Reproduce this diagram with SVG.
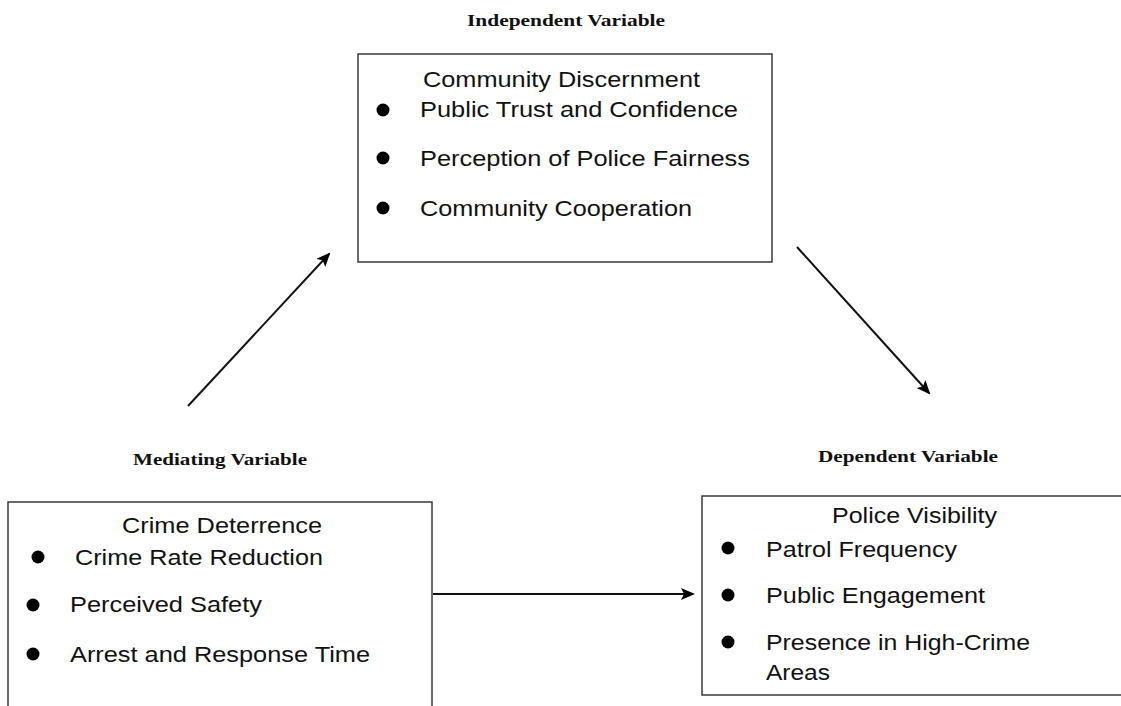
<svg xmlns="http://www.w3.org/2000/svg" width="1121" height="706" viewBox="0 0 1121 706">
<style>
.box{fill:#fff;stroke:#3a3a3a;stroke-width:1.5}
.t{font-family:"Liberation Sans",Arial,sans-serif;font-size:22.5px;fill:#111}
.h{font-family:"Liberation Serif","Times New Roman",serif;font-size:16.5px;font-weight:bold;fill:#111}
.dot{fill:#000}
.con{stroke:#111;stroke-width:2;fill:none;marker-end:url(#ah)}
</style>
<defs>
<marker id="ah" markerWidth="14" markerHeight="12" refX="12" refY="6" orient="auto" markerUnits="userSpaceOnUse">
<path d="M0,0 L14,6 L0,12 L3,6 Z" fill="#000"/>
</marker>
</defs>
<rect width="1121" height="706" fill="#fff"/>
<g id="label-independent"><text class="h" x="467" y="26" textLength="198" lengthAdjust="spacingAndGlyphs">Independent Variable</text></g>
<g id="label-mediating"><text class="h" x="133" y="465" textLength="174" lengthAdjust="spacingAndGlyphs">Mediating Variable</text></g>
<g id="label-dependent"><text class="h" x="818" y="462" textLength="180" lengthAdjust="spacingAndGlyphs">Dependent Variable</text></g>
<g id="node-community">
<rect class="box" x="358" y="54" width="414" height="208"/>
<text class="t" x="423" y="87" textLength="277" lengthAdjust="spacingAndGlyphs">Community Discernment</text>
<circle class="dot" cx="383" cy="110" r="6.5"/>
<text class="t" x="420" y="117" textLength="318" lengthAdjust="spacingAndGlyphs">Public Trust and Confidence</text>
<circle class="dot" cx="383" cy="158" r="6.5"/>
<text class="t" x="420" y="166" textLength="330" lengthAdjust="spacingAndGlyphs">Perception of Police Fairness</text>
<circle class="dot" cx="383" cy="208" r="6.5"/>
<text class="t" x="420" y="216" textLength="272" lengthAdjust="spacingAndGlyphs">Community Cooperation</text>
</g>
<g id="node-crime">
<rect class="box" x="8" y="502" width="424" height="220"/>
<text class="t" x="122" y="533" textLength="200" lengthAdjust="spacingAndGlyphs">Crime Deterrence</text>
<circle class="dot" cx="38" cy="557" r="6.5"/>
<text class="t" x="75" y="565" textLength="248" lengthAdjust="spacingAndGlyphs">Crime Rate Reduction</text>
<circle class="dot" cx="33" cy="605" r="6.5"/>
<text class="t" x="70" y="612" textLength="192" lengthAdjust="spacingAndGlyphs">Perceived Safety</text>
<circle class="dot" cx="33" cy="654" r="6.5"/>
<text class="t" x="70" y="662" textLength="300" lengthAdjust="spacingAndGlyphs">Arrest and Response Time</text>
</g>
<g id="node-police">
<rect class="box" x="702" y="496" width="430" height="199"/>
<text class="t" x="832" y="523" textLength="165" lengthAdjust="spacingAndGlyphs">Police Visibility</text>
<circle class="dot" cx="728" cy="548" r="6.5"/>
<text class="t" x="766" y="557" textLength="191" lengthAdjust="spacingAndGlyphs">Patrol Frequency</text>
<circle class="dot" cx="728" cy="595" r="6.5"/>
<text class="t" x="766" y="603" textLength="219" lengthAdjust="spacingAndGlyphs">Public Engagement</text>
<circle class="dot" cx="728" cy="642" r="6.5"/>
<text class="t" x="766" y="650" textLength="264" lengthAdjust="spacingAndGlyphs">Presence in High-Crime</text>
<text class="t" x="766" y="680" textLength="64" lengthAdjust="spacingAndGlyphs">Areas</text>
</g>
<g id="connectors">
<line class="con" x1="188" y1="406" x2="329" y2="254"/>
<line class="con" x1="797" y1="247" x2="929" y2="393"/>
<line class="con" x1="433" y1="594" x2="693" y2="594"/>
</g>
</svg>
